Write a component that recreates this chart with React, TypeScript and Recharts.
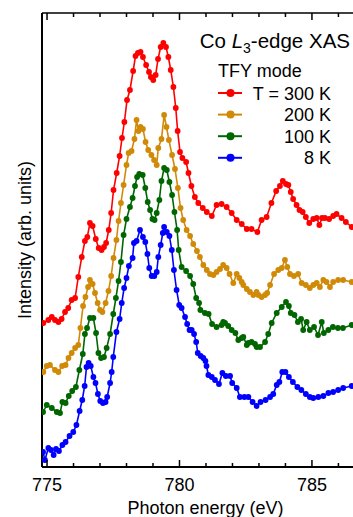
import { LineChart, Line, XAxis, YAxis, Label } from "recharts";

// photon energy (eV) / intensity (arb. units, stacked offsets)
const t300 = [
  [774.86, 144], [775.05, 147], [775.18, 150], [775.3, 147], [775.43, 145], [775.55, 148],
  [775.68, 155], [775.8, 159], [775.93, 167], [776.06, 169], [776.18, 190], [776.31, 210],
  [776.43, 226], [776.52, 230], [776.62, 244], [776.72, 241], [776.84, 228], [776.95, 219],
  [777.06, 217], [777.15, 220], [777.23, 224], [777.33, 237], [777.42, 254], [777.51, 277],
  [777.63, 294], [777.74, 311], [777.83, 329], [777.92, 345], [778.02, 367], [778.13, 377],
  [778.25, 396], [778.34, 411], [778.43, 414], [778.53, 415], [778.62, 410], [778.74, 402],
  [778.85, 395], [778.92, 390], [779.01, 387], [779.1, 392], [779.19, 408], [779.29, 420],
  [779.39, 424], [779.49, 420], [779.58, 410], [779.67, 397], [779.77, 380], [779.86, 359],
  [779.93, 336], [780.02, 315], [780.11, 309], [780.25, 305], [780.34, 294], [780.45, 281],
  [780.58, 270], [780.71, 264], [780.88, 259], [781.03, 255], [781.22, 251], [781.4, 262],
  [781.59, 263], [781.78, 260], [781.97, 254], [782.16, 247], [782.35, 243], [782.54, 238],
  [782.72, 238], [782.94, 235], [783.1, 247], [783.29, 250], [783.47, 264], [783.65, 276],
  [783.79, 281], [783.9, 286], [784.02, 283], [784.11, 282], [784.2, 275], [784.29, 268],
  [784.42, 262], [784.53, 257], [784.65, 255], [784.77, 250], [784.9, 244], [785.05, 248],
  [785.18, 249], [785.28, 242], [785.38, 249], [785.49, 249], [785.65, 248], [785.8, 251],
  [785.93, 253], [786.12, 249], [786.28, 245], [786.5, 240],
];

const t200 = [
  [774.86, 95], [774.99, 101], [775.11, 102], [775.3, 97], [775.43, 95], [775.57, 101],
  [775.7, 102], [775.81, 109], [775.93, 114], [776.06, 119], [776.18, 122], [776.26, 139],
  [776.36, 161], [776.45, 170], [776.55, 180], [776.62, 187], [776.72, 183], [776.81, 174],
  [776.91, 164], [777.0, 157], [777.09, 155], [777.21, 164], [777.32, 176], [777.42, 191],
  [777.51, 209], [777.62, 227], [777.7, 246], [777.79, 264], [777.89, 282], [778.0, 302],
  [778.08, 314], [778.19, 316], [778.3, 328], [778.38, 347], [778.45, 336], [778.53, 340],
  [778.62, 338], [778.72, 325], [778.82, 317], [778.94, 312], [779.04, 307], [779.14, 302],
  [779.2, 319], [779.32, 328], [779.42, 352], [779.51, 340], [779.6, 327], [779.72, 312],
  [779.83, 298], [779.94, 279], [780.04, 259], [780.14, 247], [780.27, 237], [780.4, 231],
  [780.52, 223], [780.66, 216], [780.77, 210], [780.9, 202], [781.03, 197], [781.15, 193],
  [781.28, 192], [781.4, 195], [781.53, 198], [781.65, 202], [781.78, 199], [781.89, 193],
  [782.03, 184], [782.16, 193], [782.26, 189], [782.35, 185], [782.41, 182], [782.54, 178],
  [782.66, 175], [782.79, 172], [782.91, 175], [782.98, 172], [783.1, 170], [783.23, 172],
  [783.31, 174], [783.42, 182], [783.57, 193], [783.73, 197], [783.86, 199], [783.98, 207],
  [784.07, 200], [784.17, 193], [784.32, 191], [784.48, 193], [784.61, 184], [784.77, 182],
  [784.92, 179], [785.05, 182], [785.18, 184], [785.3, 180], [785.43, 187], [785.55, 185],
  [785.68, 180], [785.8, 185], [785.99, 187], [786.18, 187], [786.5, 185],
];

const t100 = [
  [774.85, 55], [774.99, 62], [775.18, 59], [775.37, 55], [775.49, 54], [775.58, 65],
  [775.7, 64], [775.82, 71], [775.95, 76], [776.09, 80], [776.22, 97], [776.35, 113],
  [776.43, 133], [776.51, 139], [776.62, 149], [776.75, 149], [776.85, 134], [776.94, 114],
  [777.04, 109], [777.15, 110], [777.25, 119], [777.38, 133], [777.5, 153], [777.6, 169],
  [777.7, 186], [777.79, 205], [777.89, 232], [778.0, 248], [778.13, 260], [778.23, 269],
  [778.32, 281], [778.4, 290], [778.48, 293], [778.61, 292], [778.71, 279], [778.8, 265],
  [778.89, 257], [778.98, 248], [779.06, 247], [779.14, 254], [779.24, 267], [779.32, 286],
  [779.42, 299], [779.52, 297], [779.62, 285], [779.72, 272], [779.81, 255], [779.91, 237],
  [779.97, 217], [780.08, 200], [780.25, 196], [780.4, 191], [780.52, 183], [780.63, 169],
  [780.74, 164], [780.79, 157], [780.96, 154], [781.1, 153], [781.23, 143], [781.4, 140],
  [781.59, 142], [781.65, 145], [781.72, 144], [781.84, 141], [781.97, 137], [782.11, 134],
  [782.22, 127], [782.35, 129], [782.41, 130], [782.54, 122], [782.6, 124], [782.72, 125],
  [782.85, 123], [782.91, 120], [783.04, 120], [783.23, 125], [783.35, 133], [783.48, 144],
  [783.67, 154], [783.86, 160], [784.02, 165], [784.13, 161], [784.2, 154], [784.34, 152],
  [784.47, 145], [784.59, 148], [784.67, 137], [784.8, 145], [784.92, 137], [785.08, 140],
  [785.23, 132], [785.37, 145], [785.45, 134], [785.62, 137], [785.79, 140], [785.98, 139],
  [786.17, 139], [786.5, 142],
];

const t8 = [
  [774.85, 15], [774.92, 7], [775.05, 19], [775.15, 17], [775.25, 12], [775.34, 18],
  [775.45, 16], [775.58, 22], [775.7, 25], [775.85, 31], [775.99, 35], [776.11, 42],
  [776.23, 56], [776.33, 67], [776.42, 81], [776.49, 100], [776.57, 104], [776.65, 101],
  [776.75, 90], [776.83, 84], [776.92, 73], [777.01, 66], [777.11, 64], [777.21, 65],
  [777.27, 70], [777.38, 84], [777.44, 95], [777.5, 110], [777.62, 135], [777.74, 148],
  [777.82, 164], [777.91, 179], [778.0, 189], [778.09, 201], [778.23, 209], [778.28, 224],
  [778.38, 226], [778.51, 237], [778.62, 230], [778.71, 225], [778.79, 213], [778.86, 199],
  [778.95, 191], [779.05, 191], [779.14, 195], [779.2, 210], [779.29, 222], [779.37, 234],
  [779.42, 240], [779.52, 235], [779.62, 231], [779.71, 217], [779.79, 197], [779.89, 177],
  [779.99, 162], [780.08, 159], [780.21, 150], [780.29, 143], [780.38, 137], [780.46, 137],
  [780.55, 133], [780.63, 125], [780.69, 114], [780.8, 111], [780.9, 109], [780.98, 106],
  [781.02, 101], [781.09, 92], [781.22, 90], [781.34, 87], [781.49, 83], [781.62, 94],
  [781.75, 91], [781.91, 91], [781.99, 84], [782.16, 79], [782.28, 70], [782.45, 70],
  [782.6, 70], [782.76, 65], [782.91, 61], [783.06, 65], [783.25, 67], [783.42, 70],
  [783.54, 73], [783.67, 82], [783.77, 85], [783.88, 95], [784.0, 95], [784.13, 90],
  [784.28, 85], [784.45, 80], [784.6, 77], [784.77, 73], [784.92, 70], [785.05, 69],
  [785.24, 70], [785.43, 71], [785.62, 74], [785.8, 75], [785.99, 77], [786.18, 79],
  [786.5, 81],
];

const series = [
  { name: "T = 300 K", color: "#ff0000", data: t300 },
  { name: "200 K", color: "#d08a08", data: t200 },
  { name: "100 K", color: "#006600", data: t100 },
  { name: "8 K", color: "#0000ff", data: t8 },
];

const xTicks = [775, 776, 777, 778, 779, 780, 781, 782, 783, 784, 785, 786];
const majorTicks = [775, 780, 785];

const FONT = "'Liberation Sans', Arial, Helvetica, sans-serif";

function toRows(pts: number[][]) {
  return pts.map(([e, y]) => ({ e, y }));
}

function BottomTick(props: any) {
  const { x, y, payload } = props;
  const major = majorTicks.includes(payload.value);
  return (
    <g>
      <line x1={x} y1={y} x2={x} y2={y - (major ? 7 : 4)} stroke="#000" strokeWidth={1.5} />
      {major && (
        <text x={x} y={y + 24} textAnchor="middle" fontSize={18} fontFamily={FONT} fill="#000">
          {payload.value}
        </text>
      )}
    </g>
  );
}

function TopTick(props: any) {
  const { x, y, payload } = props;
  const major = majorTicks.includes(payload.value);
  return <line x1={x} y1={y} x2={x} y2={y + (major ? 7 : 4)} stroke="#000" strokeWidth={1.5} />;
}

export default function App() {
  return (
    <div style={{ position: "absolute", left: 0, top: 0, width: 353, height: 517, background: "#fff", fontFamily: FONT }}>
      <LineChart width={353} height={517} margin={{ top: 12, right: 0, bottom: 0, left: 41 }}>
        <XAxis
          xAxisId="b"
          dataKey="e"
          type="number"
          domain={[774.81, 786.55]}
          ticks={xTicks}
          interval={0}
          allowDataOverflow
          height={50}
          tickSize={0}
          tickMargin={0}
          tickLine={false}
          tick={<BottomTick />}
          axisLine={{ stroke: "#000", strokeWidth: 2 }}
        >
          <Label
            value="Photon energy (eV)"
            position="insideBottom"
            offset={3}
            dx={8}
            fontSize={18}
            fontFamily={FONT}
            fill="#000"
          />
        </XAxis>
        <XAxis
          xAxisId="t"
          orientation="top"
          dataKey="e"
          type="number"
          domain={[774.81, 786.55]}
          ticks={xTicks}
          interval={0}
          allowDataOverflow
          height={1}
          tickSize={0}
          tickMargin={0}
          tickLine={false}
          tick={<TopTick />}
          axisLine={{ stroke: "#000", strokeWidth: 1.5 }}
        />
        <YAxis
          dataKey="y"
          type="number"
          domain={[0, 454]}
          width={1}
          tick={false}
          tickLine={false}
          axisLine={{ stroke: "#000", strokeWidth: 2 }}
        >
          <Label
            content={() => (
              <text
                x={25}
                y={240}
                transform="rotate(-90, 25, 240)"
                textAnchor="middle"
                dominantBaseline="central"
                fontSize={18}
                fontFamily={FONT}
                fill="#000"
              >
                Intensity (arb. units)
              </text>
            )}
          />
        </YAxis>
        {series.map((s) => (
          <Line
            key={s.name}
            xAxisId="b"
            data={toRows(s.data)}
            dataKey="y"
            stroke={s.color}
            strokeWidth={1.6}
            dot={{ r: 2.9, fill: s.color, stroke: s.color, strokeWidth: 0 }}
            isAnimationActive={false}
          />
        ))}
      </LineChart>
      <svg
        width={353}
        height={517}
        style={{ position: "absolute", left: 0, top: 0, pointerEvents: "none" }}
      >
        <text x={350} y={48} textAnchor="end" fontSize={20.5} fontFamily={FONT} fill="#000">
          Co <tspan fontStyle="italic">L</tspan>
          <tspan fontSize={14} dy={5}>3</tspan>
          <tspan dy={-5}>-edge XAS</tspan>
        </text>
        <text x={218} y={77} fontSize={18} fontFamily={FONT} fill="#000">
          TFY mode
        </text>
        {series.map((s, i) => {
          const cy = 93 + i * 21.6;
          return (
            <g key={s.name}>
              <line x1={218} y1={cy} x2={242} y2={cy} stroke={s.color} strokeWidth={2} />
              <circle cx={230.5} cy={cy} r={4} fill={s.color} />
              <text x={331} y={cy + 6.5} textAnchor="end" fontSize={18} fontFamily={FONT} fill="#000">
                {s.name}
              </text>
            </g>
          );
        })}
      </svg>
    </div>
  );
}
